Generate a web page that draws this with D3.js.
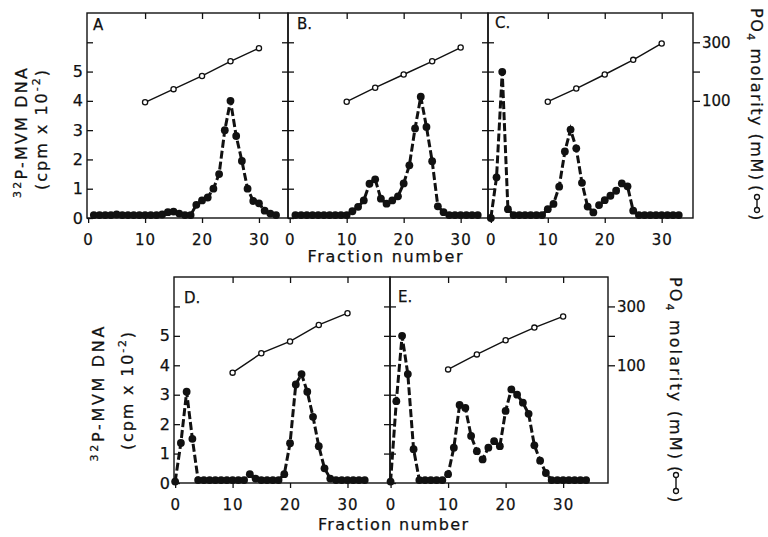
<!DOCTYPE html>
<html>
<head>
<meta charset="utf-8">
<title>Fraction profiles</title>
<script src="https://d3js.org/d3.v7.min.js"></script>
<style>
  body { margin: 0; background: #fff; }
  svg text { font-family: "DejaVu Sans", sans-serif; fill: #111; stroke: #111; stroke-width: 0.25px; }
</style>
</head>
<body>
<script>
// 32P-MVM DNA (cpm x 10^-2) per fraction
const fracA = [1,2,3,4,5,6,7,8,9,10,11,12,13,14,15,16,17,18,19,20,21,22,23,24,25,26,27,28,29,30,31,32,33];
const dnaA  = [0.1,0.1,0.1,0.1,0.12,0.1,0.1,0.1,0.1,0.1,0.1,0.1,0.12,0.2,0.22,0.15,0.1,0.1,0.45,0.6,0.7,1.0,1.5,3.0,4.0,2.8,1.95,1.0,0.58,0.5,0.25,0.15,0.1];

const fracB = [1,2,3,4,5,6,7,8,9,10,11,12,13,14,15,16,17,18,19,20,21,22,23,24,25,26,27,28,29,30,31,32,33];
const dnaB  = [0.1,0.1,0.1,0.1,0.1,0.1,0.1,0.1,0.1,0.1,0.23,0.38,0.6,1.17,1.32,0.66,0.49,0.6,0.74,1.18,1.8,3.06,4.14,3.11,1.94,0.4,0.2,0.1,0.1,0.1,0.1,0.1,0.1];

const fracC = [0,1,2,3,4,5,6,7,8,9,10,11,12,13,14,15,16,17,18,19,20,21,22,23,24,25,26,27,28,29,30,31,32,33];
const dnaC  = [0,1.39,4.99,0.3,0.1,0.1,0.1,0.1,0.1,0.1,0.3,0.48,1.07,2.27,3.02,2.38,1.2,0.39,0.19,0.44,0.61,0.76,0.93,1.18,1.08,0.25,0.1,0.1,0.1,0.1,0.1,0.1,0.1,0.1];

const fracD = [0,1,2,3,4,5,6,7,8,9,10,11,12,13,14,15,16,17,18,19,20,21,22,23,24,25,26,27,28,29,30,31,32,33];
const dnaD  = [0.05,1.36,3.1,1.5,0.1,0.1,0.1,0.1,0.1,0.1,0.1,0.1,0.1,0.3,0.15,0.1,0.1,0.1,0.1,0.3,1.35,3.35,3.7,3.1,2.25,1.25,0.5,0.15,0.1,0.1,0.1,0.1,0.1,0.1];

const fracE = [0,1,2,3,4,5,6,7,8,9,10,11,12,13,14,15,16,17,18,19,20,21,22,23,24,25,26,27,28,29,30,31,32,33,34];
const dnaE  = [0.05,2.78,5.0,3.7,1.15,0.1,0.1,0.1,0.1,0.1,0.3,1.2,2.65,2.55,1.6,1.08,0.8,1.2,1.42,1.25,2.45,3.18,3.0,2.73,2.35,1.28,0.76,0.34,0.1,0.1,0.1,0.1,0.1,0.1,0.1];

// PO4 molarity (mM) of the gradient
const gradFrac = [10,15,20,25,30];
const gradA = [95,140,185,235,280];
const gradB = [97,145,190,235,282];
const gradC = [97,142,190,240,296];
const gradD = [75,141,181,237,277];
const gradE = [86,137,185,228,266];

const xTickValues = [0,10,20,30];
const yTickValues = [0,1,2,3,4,5,6];
const mMTickValues = [100,200,300];

const width = 768, height = 537;

const svg = d3.select("body").append("svg")
  .attr("width", width)
  .attr("height", height);

// panel layout
const panels = [
  { name: "A",  frac: fracA, dna: dnaA, grad: gradA, left: 87,  right: 288, top: 13,  bottom: 218, xDomain: [-0.2, 35.1], labelX: 6,  labelY: 17, yLabels: true,  innerLeft: false, innerRight: true,  mmAxis: false },
  { name: "B.", frac: fracB, dna: dnaB, grad: gradB, left: 288, right: 488, top: 13,  bottom: 218, xDomain: [-0.3, 34.8], labelX: 9,  labelY: 16, yLabels: false, innerLeft: true,  innerRight: true,  mmAxis: false },
  { name: "C.", frac: fracC, dna: dnaC, grad: gradC, left: 488, right: 693, top: 13,  bottom: 218, xDomain: [-0.5, 35.5], labelX: 7,  labelY: 15, yLabels: false, innerLeft: true,  innerRight: false, mmAxis: true },
  { name: "D.", frac: fracD, dna: dnaD, grad: gradD, left: 174, right: 390, top: 277, bottom: 483, xDomain: [-0.2, 37.4], labelX: 10, labelY: 26, yLabels: true,  innerLeft: false, innerRight: true,  mmAxis: false },
  { name: "E.", frac: fracE, dna: dnaE, grad: gradE, left: 390, right: 608, top: 277, bottom: 483, xDomain: [-0.1, 37.8], labelX: 8,  labelY: 25, yLabels: false, innerLeft: true,  innerRight: false, mmAxis: true }
];

function styleAxis(sel, size) {
  sel.select(".domain").remove();
  sel.attr("font-family", null).attr("font-size", null);
  sel.selectAll("line").attr("stroke", "#111").attr("stroke-width", 1.3);
  sel.selectAll("text").attr("font-size", size + "px").attr("fill", "#111");
}

function drawPanel(p) {
  const w = p.right - p.left;
  const h = p.bottom - p.top;

  const x = d3.scaleLinear().domain(p.xDomain).range([0, w]);
  const y = d3.scaleLinear().domain([0, 7]).range([h, 0]);
  const yMM = d3.scaleLinear().domain([-300, 400]).range([h, 0]);

  const g = svg.append("g").attr("transform", `translate(${p.left},${p.top})`);

  // bottom axis, labels below
  g.append("g")
    .attr("transform", `translate(0,${h})`)
    .call(d3.axisBottom(x).tickValues(xTickValues).tickSize(5).tickPadding(11))
    .call(s => styleAxis(s, 15))
    .call(s => s.selectAll("text").attr("letter-spacing", "1px"));

  // top ticks pointing in
  g.append("g")
    .call(d3.axisTop(x).tickValues([10, 20, 30]).tickSize(-6).tickFormat(""))
    .call(s => styleAxis(s, 15));

  // left axis
  g.append("g")
    .call(d3.axisLeft(y).tickValues(yTickValues).tickSize(-6).tickPadding(4)
      .tickFormat(d => (p.yLabels && d <= 5) ? d : ""))
    .call(s => styleAxis(s, 16));

  if (p.innerRight) {
    g.append("g")
      .attr("transform", `translate(${w},0)`)
      .call(d3.axisRight(y).tickValues(yTickValues.slice(1)).tickSize(-6).tickFormat(""))
      .call(s => styleAxis(s, 15));
  }

  if (p.mmAxis) {
    g.append("g")
      .attr("transform", `translate(${w},0)`)
      .call(d3.axisRight(yMM).tickValues(mMTickValues).tickSize(7).tickPadding(2)
        .tickFormat(d => d === 200 ? "" : d))
      .call(s => styleAxis(s, 15));
  }

  // frame
  g.append("rect")
    .attr("width", w)
    .attr("height", h)
    .attr("fill", "none")
    .attr("stroke", "#111")
    .attr("stroke-width", 1.4);

  // panel letter
  g.append("text")
    .attr("x", p.labelX)
    .attr("y", p.labelY)
    .attr("font-size", "15px")
    .text(p.name);

  // gradient (open circles)
  const gradPts = d3.zip(gradFrac, p.grad);
  g.append("path")
    .datum(gradPts)
    .attr("fill", "none")
    .attr("stroke", "#111")
    .attr("stroke-width", 1.4)
    .attr("d", d3.line().x(d => x(d[0])).y(d => yMM(d[1])));

  g.selectAll(".open")
    .data(gradPts)
    .join("circle")
    .attr("class", "open")
    .attr("cx", d => x(d[0]))
    .attr("cy", d => yMM(d[1]))
    .attr("r", 2.6)
    .attr("fill", "#fff")
    .attr("stroke", "#111")
    .attr("stroke-width", 1.3);

  // DNA profile (filled circles, dashed line)
  const pts = d3.zip(p.frac, p.dna);
  g.append("path")
    .datum(pts)
    .attr("fill", "none")
    .attr("stroke", "#111")
    .attr("stroke-width", 3)
    .attr("stroke-dasharray", "8,3")
    .attr("d", d3.line().x(d => x(d[0])).y(d => y(d[1])));

  g.selectAll(".dot")
    .data(pts)
    .join("circle")
    .attr("class", "dot")
    .attr("cx", d => x(d[0]))
    .attr("cy", d => y(d[1]))
    .attr("r", 3.9)
    .attr("fill", "#111");
}

panels.forEach(drawPanel);

// left axis titles
function leftTitle(cx, cy1, cx2, cy2, len1, len2) {
  const t1 = svg.append("text")
    .attr("transform", `translate(${cx},${cy1}) rotate(-90)`)
    .attr("text-anchor", "middle")
    .attr("font-size", "16px")
    .attr("textLength", len1)
    .attr("lengthAdjust", "spacing");
  t1.append("tspan").attr("font-size", "11px").attr("dy", -6).text("32");
  t1.append("tspan").attr("dy", 6).text("P-MVM DNA");

  const t2 = svg.append("text")
    .attr("transform", `translate(${cx2},${cy2}) rotate(-90)`)
    .attr("text-anchor", "middle")
    .attr("font-size", "16px")
    .attr("textLength", len2)
    .attr("lengthAdjust", "spacing");
  t2.append("tspan").text("(cpm x 10");
  t2.append("tspan").attr("font-size", "11px").attr("dy", -7).text("-2");
  t2.append("tspan").attr("dy", 7).text(")");
}
leftTitle(27, 133, 47, 130, 130, 120);
leftTitle(104, 394, 133, 391, 135, 118);

// right axis titles
function rightTitle(bx, y0, len, openAt, sym1, sym2, closeAt) {
  const g = svg.append("g").attr("transform", `translate(${bx},0) rotate(90)`);
  const t = g.append("text")
    .attr("x", y0)
    .attr("y", 0)
    .attr("font-size", "16px")
    .attr("textLength", len)
    .attr("lengthAdjust", "spacing");
  t.append("tspan").text("PO");
  t.append("tspan").attr("font-size", "11px").attr("dy", 4).text("4");
  t.append("tspan").attr("dy", -4).text(" molarity (mM)");
  g.append("text").attr("x", openAt).attr("y", 0).attr("font-size", "16px").text("(");
  g.append("line")
    .attr("x1", sym1).attr("x2", sym2)
    .attr("y1", -6).attr("y2", -6)
    .attr("stroke", "#111").attr("stroke-width", 1.4);
  g.selectAll(".sym")
    .data([sym1, sym2])
    .join("circle")
    .attr("cx", d => d).attr("cy", -6).attr("r", 2.5)
    .attr("fill", "#fff").attr("stroke", "#111").attr("stroke-width", 1.3);
  g.append("text").attr("x", closeAt).attr("y", 0).attr("font-size", "16px").text(")");
}
rightTitle(751, 8, 172, 185, 197, 210, 214);
rightTitle(670, 277, 182, 466, 475, 491, 496);

// x axis titles
svg.append("text")
  .attr("x", 385).attr("y", 262)
  .attr("text-anchor", "middle")
  .attr("font-size", "16px")
  .attr("textLength", 155)
  .attr("lengthAdjust", "spacing")
  .text("Fraction number");

svg.append("text")
  .attr("x", 393).attr("y", 530)
  .attr("text-anchor", "middle")
  .attr("font-size", "16px")
  .attr("textLength", 150)
  .attr("lengthAdjust", "spacing")
  .text("Fraction number");
</script>
</body>
</html>
